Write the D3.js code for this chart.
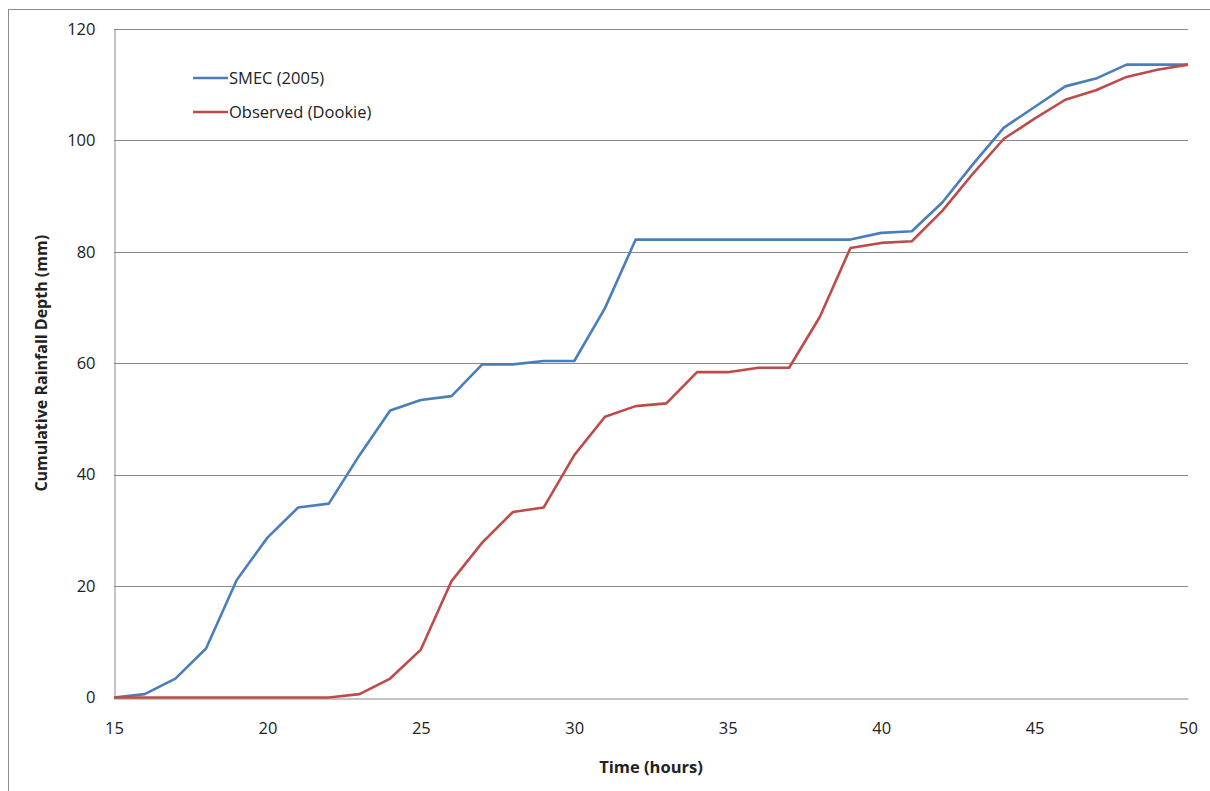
<!DOCTYPE html>
<html>
<head>
<meta charset="utf-8">
<script src="https://cdn.jsdelivr.net/npm/d3@7"></script>
<style>
  html, body { margin: 0; padding: 0; background: #fff; }
  svg { display: block; }
  text { font-family: "Open Sans", "Noto Sans", sans-serif; fill: #222; }
</style>
</head>
<body>
<svg id="chart" width="1210" height="791"></svg>
<script>
// Hourly time steps (hours)
const hours = d3.range(15, 51);

// Cumulative rainfall depth (mm)
const smec2005 = [
  0, 0.6, 3.4, 8.8, 21.1, 28.7, 34.1, 34.8, 43.5, 51.5,
  53.4, 54.1, 59.8, 59.8, 60.4, 60.4, 69.9, 82.2, 82.2, 82.2,
  82.2, 82.2, 82.2, 82.2, 82.2, 83.4, 83.7, 88.9, 95.8, 102.3,
  106.0, 109.7, 111.1, 113.6, 113.6, 113.6
];
const observedDookie = [
  0, 0, 0, 0, 0, 0, 0, 0, 0.6, 3.4,
  8.6, 20.9, 27.8, 33.3, 34.1, 43.5, 50.4, 52.3, 52.8, 58.4,
  58.4, 59.2, 59.2, 68.3, 80.7, 81.6, 81.9, 87.4, 94.1, 100.3,
  103.9, 107.3, 109.0, 111.4, 112.7, 113.6
];

const seriesNames = ["SMEC (2005)", "Observed (Dookie)"];
const seriesColors = ["#4a7ebb", "#be4b48"];
const xTicks = [15, 20, 25, 30, 35, 40, 45, 50];
const yTicks = [0, 20, 40, 60, 80, 100, 120];

const svg = d3.select("#chart");
const FONT = '"Open Sans", "Noto Sans", sans-serif';

// outer chart frame
svg.append("rect")
  .attr("x", 8.5).attr("y", 9.5)
  .attr("width", 1300).attr("height", 900)
  .attr("fill", "none").attr("stroke", "#8c8c8c").attr("stroke-width", 1);

const plot = { left: 114, right: 1188, top: 29, bottom: 697.5 };

const x = d3.scaleLinear().domain([15, 50]).range([plot.left, plot.right]);
const y = d3.scaleLinear().domain([0, 120]).range([plot.bottom, plot.top]);

// horizontal gridlines
svg.append("g")
  .selectAll("line")
  .data(yTicks.filter(v => v > 0))
  .join("line")
  .attr("x1", plot.left).attr("x2", plot.right)
  .attr("y1", d => Math.round(y(d)) + 0.5).attr("y2", d => Math.round(y(d)) + 0.5)
  .attr("stroke", "#8a8a8a").attr("stroke-width", 1);

// y axis
const yAxis = svg.append("g")
  .attr("transform", `translate(${plot.left + 0.5},0)`)
  .call(d3.axisLeft(y).tickValues(yTicks).tickSize(0).tickPadding(19));
yAxis.select(".domain").attr("stroke", "#8a8a8a");
yAxis.selectAll("text").attr("font-size", 16.5).attr("fill", "#222")
  .style("font-family", FONT);

// x axis
const xAxis = svg.append("g")
  .attr("transform", `translate(0,${Math.round(plot.bottom) + 0.5})`)
  .call(d3.axisBottom(x).tickValues(xTicks).tickSize(0).tickPadding(24));
xAxis.select(".domain").attr("stroke", "#8a8a8a");
xAxis.selectAll("text").attr("font-size", 16.5).attr("fill", "#222")
  .style("font-family", FONT);

// axis titles
svg.append("text")
  .attr("x", 651).attr("y", 773)
  .attr("text-anchor", "middle")
  .attr("font-size", 16.5).attr("font-weight", "bold")
  .text("Time (hours)");

svg.append("text")
  .attr("transform", `translate(47,${(plot.top + plot.bottom) / 2}) rotate(-90)`)
  .attr("text-anchor", "middle")
  .attr("font-size", 16).attr("font-weight", "bold")
  .text("Cumulative Rainfall Depth (mm)");

// series lines
const line = d3.line()
  .x((d, i) => x(hours[i]))
  .y(d => y(d));

[smec2005, observedDookie].forEach((vals, k) => {
  svg.append("path")
    .datum(vals)
    .attr("fill", "none")
    .attr("stroke", seriesColors[k])
    .attr("stroke-width", 2.6)
    .attr("stroke-linejoin", "round")
    .attr("d", line);
});

// legend
const legend = svg.append("g");
seriesNames.forEach((name, k) => {
  const ly = 78 + k * 34;
  legend.append("line")
    .attr("x1", 193).attr("x2", 228)
    .attr("y1", ly).attr("y2", ly)
    .attr("stroke", seriesColors[k]).attr("stroke-width", 2.6);
  legend.append("text")
    .attr("x", 229).attr("y", ly + 6)
    .attr("font-size", 16.5)
    .text(name);
});
</script>
</body>
</html>
